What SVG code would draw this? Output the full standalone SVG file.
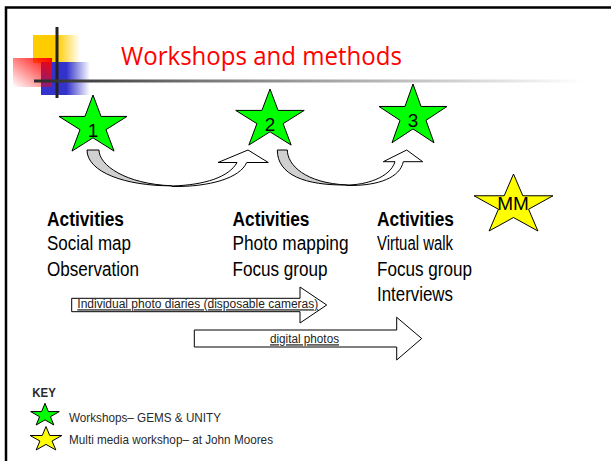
<svg xmlns="http://www.w3.org/2000/svg" width="611" height="461" viewBox="0 0 611 461">
  <defs>
    <linearGradient id="gY" x1="0" y1="0" x2="1" y2="0">
      <stop offset="0" stop-color="#FFCC00"/>
      <stop offset="0.52" stop-color="#FFCC00"/>
      <stop offset="1" stop-color="#FFCC00" stop-opacity="0"/>
    </linearGradient>
    <linearGradient id="gB" x1="0" y1="0" x2="1" y2="0">
      <stop offset="0" stop-color="#3333CC"/>
      <stop offset="0.52" stop-color="#3333CC"/>
      <stop offset="1" stop-color="#3333CC" stop-opacity="0"/>
    </linearGradient>
    <linearGradient id="gR" x1="1" y1="0" x2="0" y2="1">
      <stop offset="0" stop-color="#FF0000"/>
      <stop offset="1" stop-color="#FF0000" stop-opacity="0"/>
    </linearGradient>
    <linearGradient id="gL" gradientUnits="userSpaceOnUse" x1="34" y1="0" x2="585" y2="0">
      <stop offset="0" stop-color="#2a2a2a"/>
      <stop offset="0.3" stop-color="#777"/>
      <stop offset="1" stop-color="#fff"/>
    </linearGradient>
  </defs>
  <style>
    .star { stroke: #000; stroke-width: 1; stroke-linejoin: miter; }
    .green { fill: #00FF00; }
    .yellow { fill: #FFFF00; }
    .num { font-family: "Liberation Sans", Arial, sans-serif; font-size: 19px; fill: #000; text-anchor: middle; }
    .act { font-family: "Liberation Sans", Arial, sans-serif; font-size: 20px; fill: #000; }
    .bold { font-weight: bold; }
    .arrow { fill: #fff; stroke: #000; stroke-width: 1; }
    .back { fill: #D0D0D0; stroke: #000; stroke-width: 1; }
    .small { font-family: "Liberation Sans", Arial, sans-serif; font-size: 12.5px; fill: #222; text-decoration: underline; }
    .key { font-family: "Liberation Sans", Arial, sans-serif; font-size: 13.5px; fill: #2a2a2a; }
  </style>

  <rect width="611" height="461" fill="#fff"/>
  <path d="M6,461 V7.5 H611" fill="none" stroke="#000" stroke-width="2.5"/>

  <g id="logo">
    <rect x="33" y="35" width="47" height="28" fill="url(#gY)"/>
    <rect x="41" y="62" width="49" height="33" fill="url(#gB)"/>
    <rect x="13" y="58" width="39" height="29" fill="url(#gR)"/>
    <line x1="57" y1="27" x2="57" y2="98" stroke="#222" stroke-width="3"/>
    <line x1="34" y1="81" x2="585" y2="81" stroke="url(#gL)" stroke-width="3"/>
  </g>

  <g id="title">
    <text x="121" y="65" font-family="Open Sans, DejaVu Sans, sans-serif" font-size="26" fill="#FF0000" textLength="281" lengthAdjust="spacingAndGlyphs">Workshops and methods</text>
  </g>

  <g id="connectors">
    <path class="arrow" d="M172,186 C205,185 229,177 237,162.5 H218 L248,150 L268.3,162.5 H246.7 C240,178 210,187 172,186.5 Z"/>
    <path class="back" d="M87,150 H99 C99,165 125,184 172,185.8 C125,186 87,172 87,150 Z"/>
    <path class="arrow" d="M347,185 C365,185 390,178 395,161.7 H383.3 L406.7,150 L422.7,161.7 H403.3 C400,177 380,186 347,185.5 Z"/>
    <path class="back" d="M277.3,150 H287.3 C287.5,165 305,183 347,185 C305,185.5 277.3,175 277.3,150 Z"/>
  </g>

  <g id="star1">
    <polygon class="star green" points="93,95 101.03,116.42 127,116.42 105.99,129.66 114.01,151.08 93,137.84 71.99,151.08 80.01,129.66 59,116.42 84.97,116.42"/>
    <text class="num" x="93" y="137">1</text>
  </g>
  <g id="star2">
    <polygon class="star green" points="270,89 278.08,110.42 304.24,110.42 283.08,123.66 291.16,145.08 270,131.84 248.84,145.08 256.92,123.66 235.76,110.42 261.92,110.42"/>
    <text class="num" x="270" y="131">2</text>
  </g>
  <g id="star3">
    <polygon class="star green" points="413,84 421.03,106.46 447,106.46 425.99,120.34 434.01,142.79 413,128.92 391.99,142.79 400.01,120.34 379,106.46 404.97,106.46"/>
    <text class="num" x="413" y="127">3</text>
  </g>
  <g id="starMM">
    <polygon class="star yellow" points="513.5,174 522.82,195.77 552.97,195.77 528.58,209.22 537.89,230.98 513.5,217.53 489.11,230.98 498.42,209.22 474.03,195.77 504.18,195.77"/>
    <text class="num" x="513" y="209.5" font-size="14">MM</text>
  </g>

  <g id="col1">
    <text class="act bold" x="47" y="226" textLength="77" lengthAdjust="spacingAndGlyphs">Activities</text>
    <text class="act" x="47" y="250" textLength="84" lengthAdjust="spacingAndGlyphs">Social map</text>
    <text class="act" x="47" y="275.5" textLength="92" lengthAdjust="spacingAndGlyphs">Observation</text>
  </g>
  <g id="col2">
    <text class="act bold" x="232.5" y="226" textLength="77" lengthAdjust="spacingAndGlyphs">Activities</text>
    <text class="act" x="232.5" y="250" textLength="116" lengthAdjust="spacingAndGlyphs">Photo mapping</text>
    <text class="act" x="232.5" y="275.5" textLength="95" lengthAdjust="spacingAndGlyphs">Focus group</text>
  </g>
  <g id="col3">
    <text class="act bold" x="377" y="226" textLength="77" lengthAdjust="spacingAndGlyphs">Activities</text>
    <text class="act" x="377" y="250" textLength="76" lengthAdjust="spacingAndGlyphs">Virtual walk</text>
    <text class="act" x="377" y="275.5" textLength="95" lengthAdjust="spacingAndGlyphs">Focus group</text>
    <text class="act" x="377" y="300.5" textLength="76" lengthAdjust="spacingAndGlyphs">Interviews</text>
  </g>

  <g id="arrow-diaries">
    <polygon class="arrow" points="71.7,298.3 300,298.3 300,287 326.7,305 300,323 300,311.7 71.7,311.7"/>
    <text class="small" x="77.3" y="308.3" textLength="241" lengthAdjust="spacingAndGlyphs">Individual photo diaries  (disposable cameras)</text>
  </g>
  <g id="arrow-digital">
    <polygon class="arrow" points="194.3,330 396.7,330 396.7,317.3 421.7,338.5 396.7,360 396.7,347 194.3,347"/>
    <text class="small" x="270" y="343.3" textLength="69" lengthAdjust="spacingAndGlyphs">digital photos</text>
  </g>

  <g id="key">
    <text class="key bold" x="32.3" y="396.7" fill="#222" textLength="23.5" lengthAdjust="spacingAndGlyphs">KEY</text>
    <polygon class="star green" points="45,403.3 48.37,411.59 59.27,411.59 50.45,416.72 53.82,425.01 45,419.88 36.18,425.01 39.55,416.72 30.73,411.59 41.63,411.59"/>
    <text class="key" x="69" y="421.7" textLength="152" lengthAdjust="spacingAndGlyphs">Workshops– GEMS &amp; UNITY</text>
    <polygon class="star yellow" points="46,426.6 49.75,435.51 61.88,435.51 52.07,441.02 55.82,449.94 46,444.43 36.18,449.94 39.93,441.02 30.12,435.51 42.25,435.51"/>
    <text class="key" x="69" y="444" textLength="204" lengthAdjust="spacingAndGlyphs">Multi media workshop– at John Moores</text>
  </g>
</svg>
